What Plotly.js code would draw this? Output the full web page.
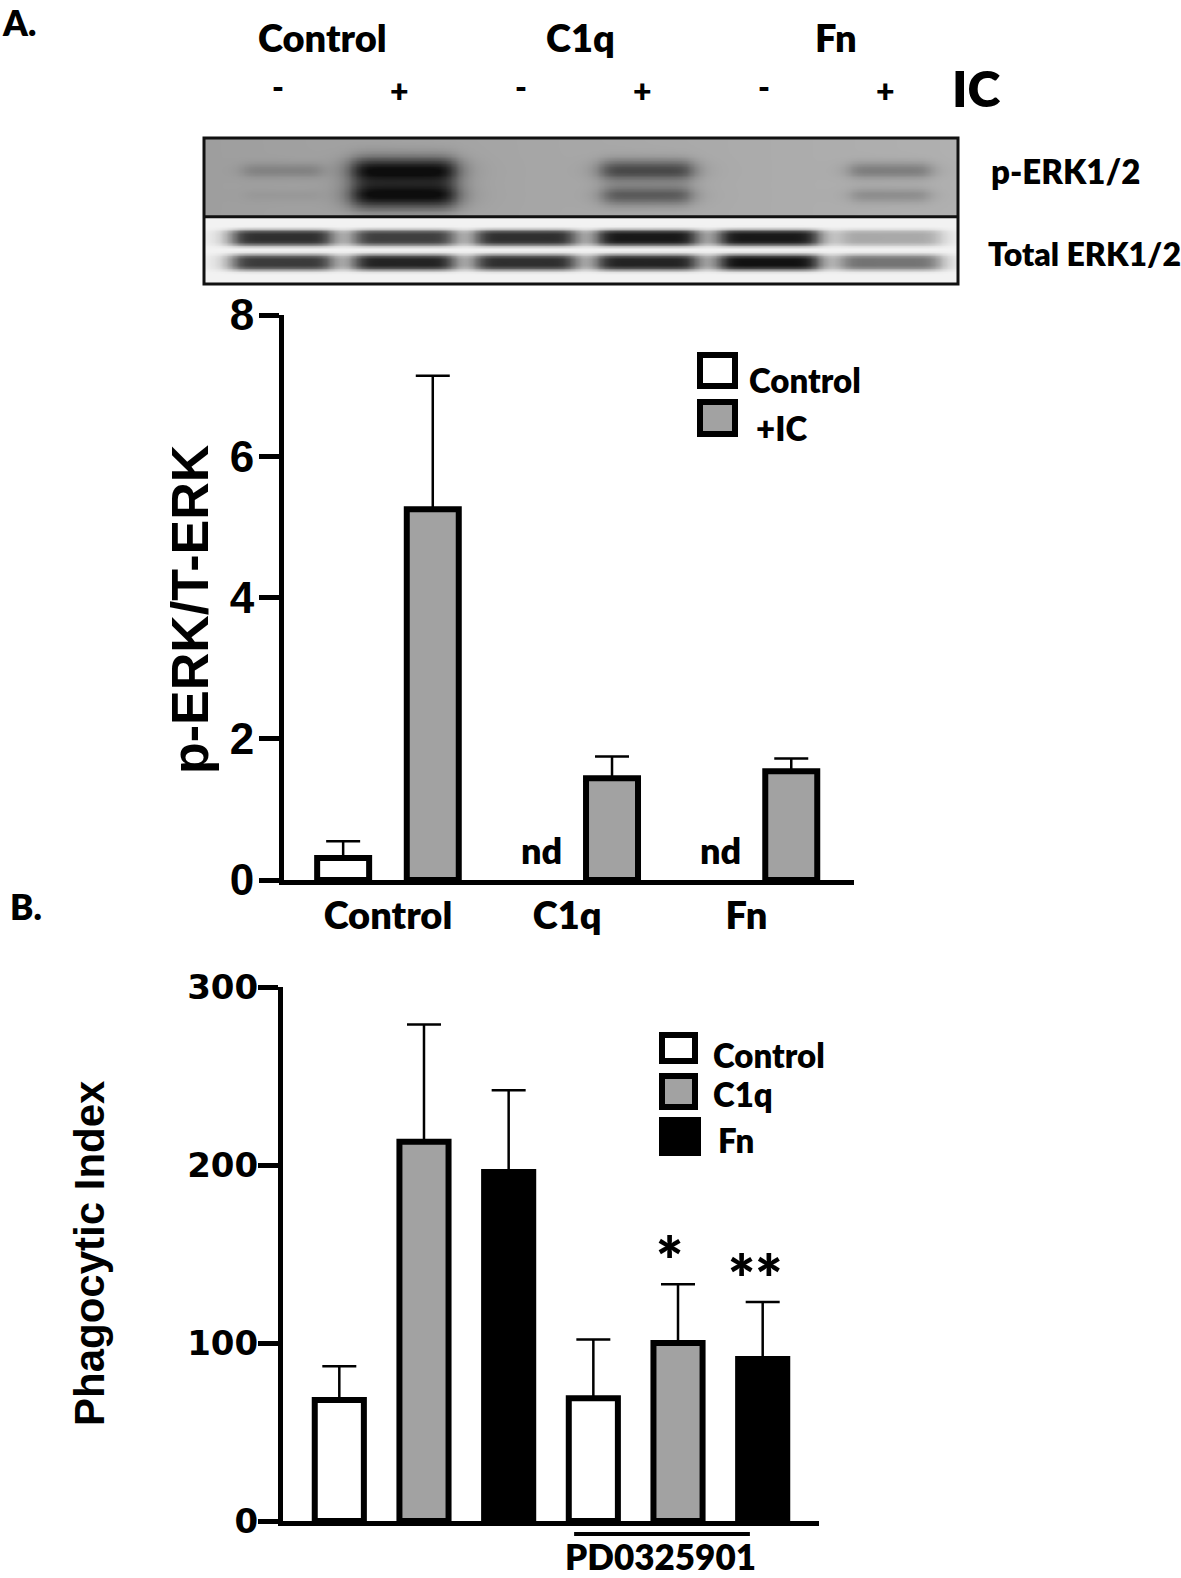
<!DOCTYPE html>
<html>
<head>
<meta charset="utf-8">
<script src="https://cdn.plot.ly/plotly-3.0.1.min.js"></script>
<style>
  html, body { margin: 0; padding: 0; background: #fff; }
  #chart { width: 1181px; height: 1578px; }
</style>
</head>
<body>
<div id="chart"></div>
<script>
// ---- blot (band darkness 0..1) ----
const blotTreat = ['Control', 'C1q', 'Fn'];
const laneIC = ['-', '+', '-', '+', '-', '+'];
const pErkUpper = [0.2, 1.0, 0, 0.62, 0, 0.3];
const pErkLower = [0.05, 1.0, 0, 0.5, 0, 0.2];
const totErkUpper = [0.85, 0.78, 0.85, 0.95, 0.95, 0.32];
const totErkLower = [0.8, 0.9, 0.85, 0.9, 0.98, 0.55];
const blotRows = ['p-ERK1/2', 'Total ERK1/2'];

// ---- panel A: p-ERK/T-ERK ----
const aGroups = ['Control', 'C1q', 'Fn'];
const aCtrlMean = [0.31, null, null];
const aCtrlErr = [0.24, null, null];
const aIcMean = [5.25, 1.44, 1.54];
const aIcErr = [1.89, 0.31, 0.18];
const aNd = ['', 'nd', 'nd'];

// ---- panel B: phagocytic index ----
const bGroups = ['Untreated', 'PD0325901'];
const bCtrlMean = [68, 69];
const bCtrlErr = [19, 33];
const bC1qMean = [213, 100];
const bC1qErr = [66, 33];
const bFnMean = [196, 91];
const bFnErr = [46, 32];
const bC1qStar = ['', '*'];
const bFnStar = ['', '**'];

// ---- helpers ----
const W = 1181, H = 1578;
const px = v => v / W;
const py = v => 1 - v / H;
const GRAY = '#a2a2a2';
const calibri = (size) => ({ family: 'Lato, "Open Sans", sans-serif', size: size, color: '#000', weight: 800 });
const arial = (size) => ({ family: '"Liberation Sans", Arial, sans-serif', size: size, color: '#000', weight: 700 });
const dejavu = (size) => ({ family: '"DejaVu Sans", sans-serif', size: size, color: '#000', weight: 700 });

function barTrace(xs, ys, errs, fill, xa, ya, lw) {
    return {
        type: 'bar', x: xs, y: ys, xaxis: xa, yaxis: ya,
        marker: { color: fill, line: { color: '#000', width: lw } },
        error_y: {
            type: 'data', symmetric: false, array: errs,
            arrayminus: errs.map(() => 0), color: '#000', thickness: 2.5, width: 17
        },
        hoverinfo: 'skip', showlegend: false
    };
}

// ---- blot image: each band is a soft blob at its lane, darkness from the arrays above ----
const MEMBRANE_SPLIT = 0.46;
const blotBands = [
    { vals: pErkUpper, row: 0.78, soft: true },
    { vals: pErkLower, row: 0.61, soft: true },
    { vals: totErkUpper, row: 0.32, soft: false },
    { vals: totErkLower, row: 0.15, soft: false }
];
function blotTrace() {
    const xs = [], ys = [], z = [];
    for (let k = 0; k <= 310; k++) xs.push(-0.64 + k * 0.02);
    for (let k = 0; k <= 100; k++) ys.push(k * 0.01);
    ys.forEach(y => {
        const upper = y >= MEMBRANE_SPLIT;
        const row = xs.map(x => {
            const bg = upper ? 0.38 - 0.07 * (x + 0.64) / 6.2 : 0.05;
            let dark = 0;
            blotBands.forEach(b => {
                if ((b.row >= MEMBRANE_SPLIT) !== upper) return;
                b.vals.forEach((v, i) => {
                    if (!v) return;
                    const hw = b.soft ? 0.3 + 0.13 * v : 0.42;
                    const sx = 1 / (1 + Math.pow(Math.abs(x - i) / hw, 8));
                    const dy = y - b.row;
                    const sy = b.soft
                        ? Math.exp(-0.5 * Math.pow(dy / (0.036 * (0.8 + v)), 2))
                        : Math.exp(-Math.pow(Math.abs(dy) / 0.056, 4));
                    dark += v * sx * sy;
                });
            });
            return bg + (0.95 - bg) * Math.min(1, dark);
        });
        z.push(row);
    });
    return {
        type: 'heatmap', x: xs, y: ys, z: z, xaxis: 'x3', yaxis: 'y3',
        zmin: 0, zmax: 1, colorscale: [[0, '#ffffff'], [1, '#000000']],
        zsmooth: 'best', showscale: false, hoverinfo: 'skip'
    };
}

const traces = [
    blotTrace(),
    barTrace(aGroups, aCtrlMean, aCtrlErr, '#fff', 'x', 'y', 6),
    barTrace(aGroups, aIcMean, aIcErr, GRAY, 'x', 'y', 6),
    barTrace(bGroups, bCtrlMean, bCtrlErr, '#fff', 'x2', 'y2', 6),
    barTrace(bGroups, bC1qMean, bC1qErr, GRAY, 'x2', 'y2', 6),
    barTrace(bGroups, bFnMean, bFnErr, '#000', 'x2', 'y2', 6)
];

// ---- annotations ----
const ann = [];
const txt = (text, x, y, font, xanchor, extra) => ann.push(Object.assign({
    text: text, xref: 'paper', yref: 'paper', x: x, y: y, showarrow: false,
    font: font, xanchor: xanchor || 'center', yanchor: 'middle'
}, extra || {}));

txt('A.', px(0), py(22), calibri(35), 'left');
txt('B.', px(8), py(906), calibri(35), 'left');

// blot header
const treatX = [322, 580, 836];
blotTreat.forEach((t, i) => txt(t, px(treatX[i]), py(37), calibri(38)));
laneIC.forEach((s, i) => ann.push({
    text: s, xref: 'x3', yref: 'paper', x: i, y: py(s === '-' ? 86 : 91), xshift: -4, showarrow: false,
    font: calibri(32), xanchor: 'center', yanchor: 'middle'
}));
txt('IC', px(950), py(88), calibri(50), 'left');
txt(blotRows[0], px(989), py(171), calibri(33), 'left');
txt(blotRows[1], px(986), py(254), calibri(32), 'left');

// panel A extras
txt('p-ERK/T-ERK', px(190), py(609), arial(52), 'center', { textangle: -90 });
aNd.forEach((t, i) => {
    if (!t) return;
    ann.push({
        text: t, xref: 'x', yref: 'y', x: aGroups[i], y: 0, xshift: -26, yshift: 6,
        showarrow: false, font: calibri(36), xanchor: 'center', yanchor: 'bottom'
    });
});
txt('Control', px(747), py(380), calibri(33), 'left');
txt('+IC', px(754), py(428), calibri(33), 'left');

// panel B extras
txt('Phagocytic Index', px(89), py(1253), arial(42), 'center', { textangle: -90 });
[[bC1qStar, bC1qMean, bC1qErr, -9], [bFnStar, bFnMean, bFnErr, 77]].forEach(([stars, m, e, shift]) => {
    stars.forEach((s, i) => {
        if (!s) return;
        ann.push({
            text: s, xref: 'x2', yref: 'y2', x: bGroups[i], y: m[i] + e[i],
            xshift: shift, yshift: -16, showarrow: false,
            font: calibri(64), xanchor: 'center', yanchor: 'bottom'
        });
    });
});
ann.push({
    text: bGroups[1], xref: 'x2', yref: 'paper', x: bGroups[1], y: py(1533), xshift: -18,
    showarrow: false, font: calibri(35), xanchor: 'center', yanchor: 'top'
});
txt('Control', px(711), py(1055), calibri(33), 'left');
txt('C1q', px(711), py(1094), calibri(33), 'left');
txt('Fn', px(716), py(1140), calibri(33), 'left');

// ---- shapes ----
const rect = (x0, y0, x1, y1, fill, lw) => ({
    type: 'rect', xref: 'paper', yref: 'paper',
    x0: px(x0), x1: px(x1), y0: py(y0), y1: py(y1),
    fillcolor: fill, line: { color: '#000', width: lw }
});

const shapes = [
    // blot frame
    { type: 'rect', xref: 'x3 domain', yref: 'y3 domain', x0: 0, x1: 1, y0: 0, y1: 1, fillcolor: 'rgba(0,0,0,0)', line: { color: '#111', width: 3 } },
    { type: 'line', xref: 'x3 domain', yref: 'y3 domain', x0: 0, x1: 1, y0: MEMBRANE_SPLIT, y1: MEMBRANE_SPLIT, line: { color: '#111', width: 3 } },
    // legend A
    rect(700, 355, 735, 386, '#fff', 6),
    rect(700, 402, 735, 434, GRAY, 6),
    // legend B
    rect(662, 1035, 695, 1061, '#fff', 6),
    rect(662, 1076, 695, 1107, GRAY, 6),
    rect(659, 1117, 701, 1156, '#000', 0),
    // PD0325901 bracket
    { type: 'line', xref: 'x2', yref: 'paper', x0: 0.591, x1: 1.283, y0: py(1534), y1: py(1534), line: { color: '#000', width: 4 } }
];

const layout = {
    width: W, height: H,
    margin: { l: 0, r: 0, t: 0, b: 0 },
    paper_bgcolor: '#fff', plot_bgcolor: 'rgba(0,0,0,0)',
    barmode: 'group', bargap: 0, bargroupgap: 0.42,
    showlegend: false,
    xaxis: {
        domain: [px(284), px(854)], range: [-0.58, 2.6], type: 'category',
        showline: true, linewidth: 5, linecolor: '#000', ticks: '',
        tickfont: calibri(38), showgrid: false, zeroline: false, anchor: 'y',
        ticklabelstandoff: -2
    },
    yaxis: {
        domain: [py(880), py(315)], range: [0, 8], dtick: 2,
        showline: true, linewidth: 5, linecolor: '#000',
        ticks: 'outside', ticklen: 20, tickwidth: 5, tickcolor: '#000',
        tickfont: arial(44), showgrid: false, zeroline: false, anchor: 'x',
        ticklabelstandoff: -4
    },
    xaxis2: {
        domain: [px(283), px(819)], range: [-0.555, 1.555], type: 'category',
        showline: true, linewidth: 5, linecolor: '#000', ticks: '',
        showticklabels: false, showgrid: false, zeroline: false, anchor: 'y2'
    },
    yaxis2: {
        domain: [py(1521), py(987)], range: [0, 300], dtick: 100,
        showline: true, linewidth: 5, linecolor: '#000',
        ticks: 'outside', ticklen: 20, tickwidth: 5, tickcolor: '#000',
        tickfont: dejavu(34), showgrid: false, zeroline: false, anchor: 'x2',
        ticklabelstandoff: -7
    },
    xaxis3: { domain: [px(204), px(958)], range: [-0.64, 5.56], visible: false, anchor: 'y3' },
    yaxis3: { domain: [py(284), py(138)], range: [0, 1], visible: false, anchor: 'x3' },
    annotations: ann,
    shapes: shapes
};

Plotly.newPlot('chart', traces, layout, { staticPlot: true, displayModeBar: false });
</script>
</body>
</html>
